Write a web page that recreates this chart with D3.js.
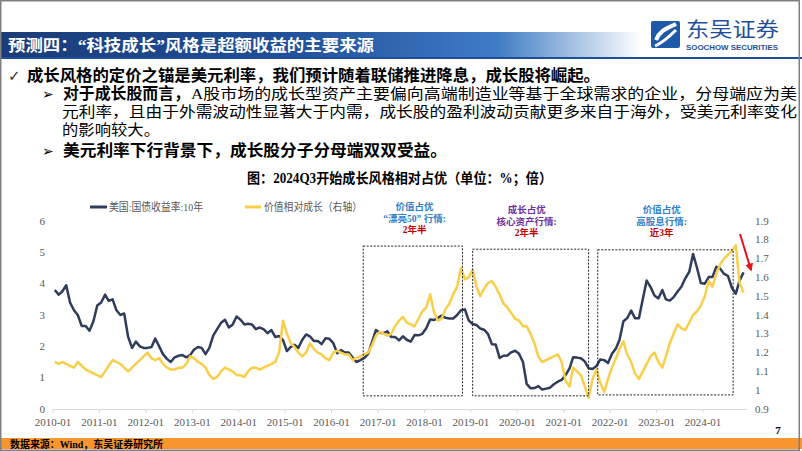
<!DOCTYPE html>
<html><head><meta charset="utf-8">
<script src="https://cdn.jsdelivr.net/npm/d3@7"></script>
<style>
html,body{margin:0;padding:0;background:#fff;}
svg{display:block;}
</style></head><body>
<svg id="c" width="802" height="451"></svg>
<script>
// ---------- DATA ----------
const firstMonth = "2010-01";
const usYield10y = [
3.80,3.65,3.75,3.95,3.40,3.15,3.00,2.65,2.65,2.50,2.80,3.30,
3.40,3.65,3.45,3.50,3.15,3.00,3.05,2.30,1.95,2.15,2.00,1.95,
1.95,1.98,2.25,2.00,1.75,1.60,1.50,1.65,1.70,1.72,1.65,1.72,
1.90,1.98,1.95,1.75,1.95,2.35,2.55,2.75,2.85,2.60,2.70,2.95,
2.85,2.70,2.72,2.70,2.55,2.60,2.55,2.42,2.52,2.30,2.33,2.20,
1.85,1.98,2.05,1.95,2.20,2.38,2.32,2.17,2.17,2.07,2.26,2.24,
2.10,1.78,1.88,1.80,1.80,1.64,1.50,1.56,1.63,1.76,2.14,2.52,
2.43,2.42,2.48,2.30,2.30,2.19,2.32,2.21,2.15,2.36,2.35,2.40,
2.58,2.86,2.84,2.90,2.98,2.91,2.89,2.89,3.00,3.15,3.18,2.83,
2.71,2.68,2.57,2.53,2.40,2.07,2.06,1.63,1.70,1.71,1.81,1.86,
1.76,1.50,0.80,0.66,0.67,0.73,0.62,0.65,0.68,0.79,0.87,0.93,
1.08,1.30,1.65,1.64,1.62,1.52,1.30,1.28,1.37,1.58,1.56,1.47,
1.76,1.93,2.20,2.80,2.90,3.14,2.90,2.90,3.52,4.10,3.89,3.62,
3.53,3.80,3.50,3.46,3.57,3.75,3.90,4.17,4.38,4.95,4.50,4.02,
4.00,4.21,4.21,4.54,4.48,4.31,4.25,3.87,3.68,4.10,4.36
];
const valueVsGrowth = [
1.15,1.14,1.15,1.14,1.13,1.12,1.15,1.13,1.11,1.10,1.09,1.08,
1.07,1.10,1.13,1.16,1.15,1.14,1.12,1.10,1.12,1.14,1.16,1.18,
1.20,1.17,1.16,1.17,1.14,1.12,1.11,1.11,1.12,1.12,1.14,1.18,
1.17,1.15,1.14,1.12,1.08,1.06,1.07,1.10,1.12,1.11,1.10,1.08,
1.08,1.07,1.10,1.12,1.12,1.11,1.12,1.13,1.14,1.15,1.20,1.37,
1.30,1.25,1.23,1.20,1.18,1.20,1.25,1.22,1.20,1.19,1.17,1.16,
1.20,1.21,1.20,1.19,1.19,1.16,1.17,1.18,1.19,1.20,1.24,1.29,
1.31,1.30,1.29,1.30,1.34,1.37,1.39,1.36,1.35,1.34,1.38,1.42,
1.44,1.51,1.42,1.37,1.38,1.43,1.46,1.51,1.55,1.65,1.59,1.60,
1.64,1.55,1.50,1.54,1.57,1.58,1.55,1.51,1.46,1.44,1.41,1.38,
1.37,1.34,1.34,1.30,1.25,1.18,1.15,1.16,1.17,1.18,1.19,1.15,
1.05,1.02,1.12,1.10,1.08,1.02,0.96,1.06,1.11,1.04,0.99,1.06,
1.12,1.17,1.22,1.26,1.19,1.15,1.09,1.06,1.10,1.14,1.18,1.20,
1.15,1.12,1.18,1.25,1.30,1.35,1.33,1.32,1.36,1.40,1.42,1.45,
1.50,1.58,1.55,1.62,1.67,1.70,1.72,1.74,1.77,1.57,1.52
];
const xTickLabels = ["2010-01","2011-01","2012-01","2013-01","2014-01","2015-01","2016-01","2017-01","2018-01","2019-01","2020-01","2021-01","2022-01","2023-01","2024-01"];
const leftTicks = [0,1,2,3,4,5,6];
const rightTicks = [0.9,1.0,1.1,1.2,1.3,1.4,1.5,1.6,1.7,1.8,1.9];
const seriesNames = ["美国:国债收益率:10年","价值相对成长（右轴）"];
const boxes = [
  {from:"2016-09-06", to:"2018-10-27", top:5.2, bottom:0.42, lines:["价值占优","“漂亮50” 行情:","2年半"], c:["#2f7fc9","#2f7fc9","#c00000"], label:"2017-10-15"},
  {from:"2019-01-15", to:"2021-07-15", top:5.1, bottom:0.42, lines:["成长占优","核心资产行情:","2年半"], c:["#7030a0","#7030a0","#c00000"], label:"2020-03-15"},
  {from:"2021-09-25", to:"2024-08-25", top:5.08, bottom:0.45, lines:["价值占优","高股息行情:","近3年"], c:["#2f7fc9","#2f7fc9","#c00000"], label:"2023-02-10"}
];

// ---------- DRAW ----------
const svg = d3.select("#c");
const cjk = "'Noto Sans CJK SC','Noto Sans',sans-serif";
const mix = "'Liberation Serif','Noto Sans CJK SC',serif";

// header
const defs = svg.append("defs");
const g1 = defs.append("linearGradient").attr("id","hdr").attr("x1","0").attr("x2","1").attr("y1","0").attr("y2","0");
g1.append("stop").attr("offset","0").attr("stop-color","#1b3c78");
g1.append("stop").attr("offset","0.35").attr("stop-color","#1f4f98");
g1.append("stop").attr("offset","0.62").attr("stop-color","#3f7cc4");
g1.append("stop").attr("offset","0.8").attr("stop-color","#ffffff");
g1.append("stop").attr("offset","1").attr("stop-color","#ffffff");
svg.append("rect").attr("x",0).attr("y",32).attr("width",802).attr("height",25).attr("fill","url(#hdr)");
svg.append("rect").attr("x",0).attr("y",57).attr("width",802).attr("height",2).attr("fill","#1f4f9b");
svg.append("text").attr("x",8).attr("y",51).attr("fill","#fff").attr("font-family",mix)
  .attr("font-weight","bold").attr("font-size",16).attr("textLength",366).attr("lengthAdjust","spacingAndGlyphs")
  .text("预测四：“科技成长”风格是超额收益的主要来源");

// logo
const lg = svg.append("g");
lg.append("rect").attr("x",651).attr("y",21).attr("width",29).attr("height",27).attr("rx",2).attr("fill","#1f5aa8");
lg.append("path").attr("d","M656,40 C660,30 668,28 676,24").attr("stroke","#fff").attr("stroke-width",4).attr("fill","none");
lg.append("path").attr("d","M655,46 C664,42 670,36 676,30").attr("stroke","#fff").attr("stroke-width",3).attr("fill","none");
lg.append("text").attr("x",686).attr("y",37).attr("fill","#1f4f9b").attr("font-family",cjk).attr("font-size",20)
  .attr("textLength",93).attr("lengthAdjust","spacingAndGlyphs").text("东吴证券");
lg.append("text").attr("x",686).attr("y",49.5).attr("fill","#1f4f9b").attr("font-family","'Liberation Sans',sans-serif")
  .attr("font-weight","bold").attr("font-size",7).attr("textLength",92).attr("lengthAdjust","spacingAndGlyphs").text("SOOCHOW SECURITIES");

// body text
function txt(x,y,s,opts){
  const t = svg.append("text").attr("x",x).attr("y",y).attr("font-family",opts.ff||mix)
    .attr("font-size",opts.fs||16).attr("fill",opts.fill||"#000").text(s);
  if(opts.bold) t.attr("font-weight","bold");
  if(opts.len) t.attr("textLength",opts.len).attr("lengthAdjust","spacingAndGlyphs");
  if(opts.anchor) t.attr("text-anchor",opts.anchor);
  return t;
}
txt(8,81,"✓",{ff:"'DejaVu Sans',sans-serif",fs:15,fill:"#333"});
txt(27,81,"成长风格的定价之锚是美元利率，我们预计随着联储推进降息，成长股将崛起。",{bold:true,len:573});
txt(42,99,"➢",{ff:"'DejaVu Sans',sans-serif",fs:14});
txt(63,99,"对于成长股而言，",{bold:true,len:127});
txt(191,99,"A股市场的成长型资产主要偏向高端制造业等基于全球需求的企业，分母端应为美",{fs:15,len:606});
txt(62,117,"元利率，且由于外需波动性显著大于内需，成长股的盈利波动贡献更多来自于海外，受美元利率变化",{fs:15,len:735});
txt(62,135,"的影响较大。",{fs:15,len:98});
txt(42,156,"➢",{ff:"'DejaVu Sans',sans-serif",fs:14});
txt(63,156,"美元利率下行背景下，成长股分子分母端双双受益。",{bold:true,len:384});

// chart title
txt(399.5,183,"图：2024Q3开始成长风格相对占优（单位：%；倍）",{bold:true,fs:14,len:305,anchor:"middle"});

// scales
const parse = d3.timeParse("%Y-%m-%d");
const x = d3.scaleTime().domain([new Date(2010,0,1), new Date(2024,0,1)]).range([53,703]);
const yL = d3.scaleLinear().domain([0,6]).range([409,221]);
const yR = d3.scaleLinear().domain([0.9,1.9]).range([409,221]);
const m0 = d3.timeParse("%Y-%m")(firstMonth);
const dateAt = i => d3.timeDay.offset(d3.timeMonth.offset(m0,i),14);

// x axis
const axisEnd = new Date(2024,11,12);
svg.append("line").attr("x1",x(new Date(2010,0,1))).attr("x2",x(axisEnd)).attr("y1",409.5).attr("y2",409.5)
  .attr("stroke","#d9d9d9").attr("stroke-width",1);
xTickLabels.forEach(l=>{
  const d = d3.timeParse("%Y-%m")(l);
  svg.append("line").attr("x1",x(d)).attr("x2",x(d)).attr("y1",409.5).attr("y2",413).attr("stroke","#d9d9d9");
  txt(x(d),426,l,{ff:"'Liberation Serif',serif",fs:11,fill:"#595959",anchor:"middle"});
});
leftTicks.forEach(v=>{
  txt(45,yL(v)+3.5,String(v),{ff:"'Liberation Serif',serif",fs:11,fill:"#595959",anchor:"end"});
});
rightTicks.forEach(v=>{
  txt(755,yR(v)+3.5,(Math.round(v*10)/10).toString(),{ff:"'Liberation Serif',serif",fs:11,fill:"#595959"});
});

// lines
const navy = "#2f3d5a", gold = "#f9cf4a";
const lineL = d3.line().x((d,i)=>x(dateAt(i))).y(d=>yL(d));
const lineR = d3.line().x((d,i)=>x(dateAt(i))).y(d=>yR(d));
svg.append("path").datum(usYield10y).attr("d",lineL).attr("fill","none").attr("stroke",navy).attr("stroke-width",2.5).attr("stroke-linejoin","round");
svg.append("path").datum(valueVsGrowth).attr("d",lineR).attr("fill","none").attr("stroke",gold).attr("stroke-width",2.5).attr("stroke-linejoin","round");

// boxes & annotations
const annY = [[207,218.5,229.5],[210,221.5,232.5],[210,221.5,232.5]];
boxes.forEach((b,k)=>{
  const x0 = x(parse(b.from)), x1 = x(parse(b.to));
  svg.append("rect").attr("x",x0).attr("y",yL(b.top)).attr("width",x1-x0).attr("height",yL(b.bottom)-yL(b.top))
    .attr("fill","none").attr("stroke","#222").attr("stroke-width",1).attr("stroke-dasharray","2,1.5");
  b.lines.forEach((s,j)=>{
    txt(x(parse(b.label)),annY[k][j]+3,s,{fs:9.5,bold:true,fill:b.c[j],anchor:"middle"});
  });
});

// red arrow
defs.append("marker").attr("id","ah").attr("viewBox","0 0 10 10").attr("refX",8).attr("refY",5)
  .attr("markerWidth",4).attr("markerHeight",4).attr("orient","auto")
  .append("path").attr("d","M0,0 L10,5 L0,10 z").attr("fill","#e3161b");
svg.append("line").attr("x1",740).attr("y1",234).attr("x2",751).attr("y2",270)
  .attr("stroke","#e3161b").attr("stroke-width",2).attr("marker-end","url(#ah)");

// legend
svg.append("line").attr("x1",90).attr("x2",107).attr("y1",207).attr("y2",207).attr("stroke",navy).attr("stroke-width",3);
txt(109,211,seriesNames[0],{ff:mix,fs:11,fill:"#595959",len:94});
svg.append("line").attr("x1",245).attr("x2",261).attr("y1",207).attr("y2",207).attr("stroke",gold).attr("stroke-width",3);
txt(264,211,seriesNames[1],{ff:mix,fs:11,fill:"#595959",len:98});

// footer
svg.append("rect").attr("x",0).attr("y",438).attr("width",802).attr("height",11).attr("fill","#f7962f");
txt(10,447.5,"数据来源：Wind，东吴证券研究所",{fs:10,bold:true,len:153});
txt(778,434,"7",{ff:"'Liberation Serif',serif",fs:11,bold:true,anchor:"middle"});

// slide border
svg.append("rect").attr("x",0.75).attr("y",0.75).attr("width",798.5).attr("height",449.5)
  .attr("fill","none").attr("stroke","#7f7f7f").attr("stroke-width",1.5);
</script>
</body></html>
